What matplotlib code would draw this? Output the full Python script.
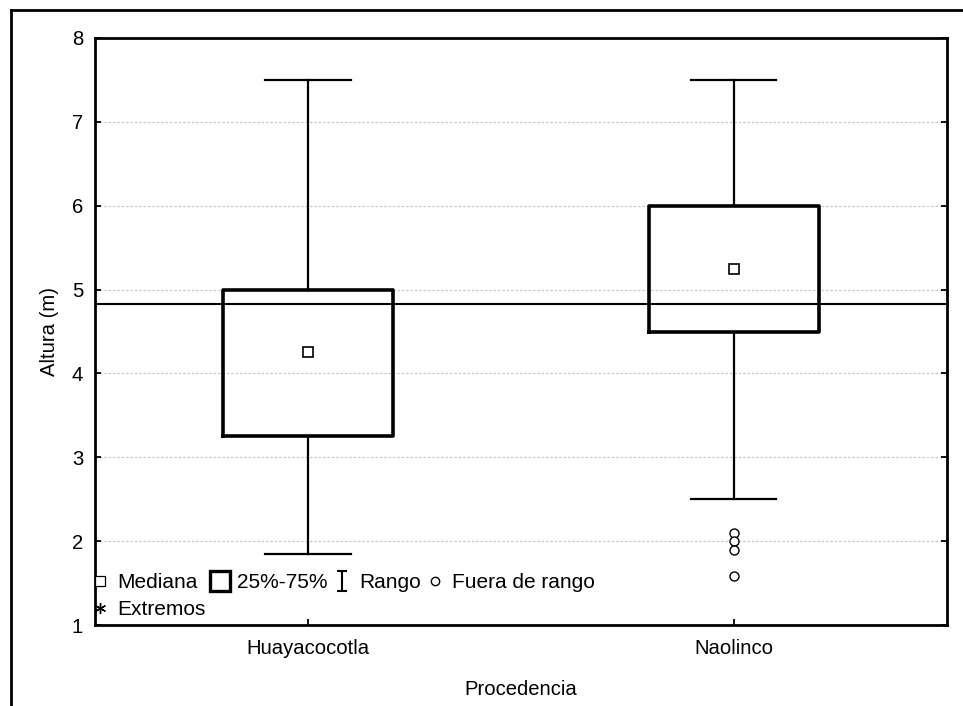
import matplotlib
matplotlib.use("Agg")
import matplotlib.pyplot as plt
from matplotlib.lines import Line2D
from matplotlib.path import Path

plt.rcParams['font.family'] = ['Liberation Sans', 'DejaVu Sans']

# box plot summary per origin
groups = ["Huayacocotla", "Naolinco"]
medians = [4.25, 5.25]
q1 = [3.25, 4.5]
q3 = [5.0, 6.0]
whis_low = [1.85, 2.5]
whis_high = [7.5, 7.5]
outliers = [[], [2.1, 2.0, 1.9, 1.58]]
grand_mean = 4.83

fig = plt.figure(figsize=(9.63, 7.06), dpi=100)
ax = fig.add_axes([0.0987, 0.1147, 0.8843, 0.8315])

stats = []
for i, name in enumerate(groups):
    stats.append({
        "label": name,
        "med": medians[i],
        "q1": q1[i],
        "q3": q3[i],
        "whislo": whis_low[i],
        "whishi": whis_high[i],
        "fliers": outliers[i],
    })

positions = [1, 2]
ax.bxp(stats, positions=positions, widths=0.4, capwidths=0.2,
       boxprops=dict(color="black", linewidth=2.6),
       whiskerprops=dict(color="black", linewidth=1.6),
       capprops=dict(color="black", linewidth=1.6),
       medianprops=dict(linestyle="none"),
       flierprops=dict(marker="o", markerfacecolor="white",
                       markeredgecolor="black", markersize=6.5,
                       markeredgewidth=1.0),
       zorder=3)

# median shown as a small square
ax.plot(positions, medians, linestyle="none", marker="s", markersize=7,
        markerfacecolor="white", markeredgecolor="black",
        markeredgewidth=1.2, zorder=4)

# overall mean line
ax.axhline(grand_mean, color="black", linewidth=1.5, zorder=2)

fs = 14.6
ax.set_xlim(0.5, 2.5)
ax.set_ylim(1, 8)
ax.set_xticks(positions)
ax.set_xticklabels(groups)
ax.set_yticks(range(1, 9))
ax.yaxis.grid(True, linestyle=(0, (2, 1.5)), color="#c8c8c8", linewidth=0.9)
ax.set_axisbelow(True)
ax.tick_params(axis="both", direction="in", labelsize=fs, width=1.3,
               length=4, pad=8.5, right=True)
ax.tick_params(axis="x", pad=10)
for sp in ax.spines.values():
    sp.set_linewidth(2)
ax.set_xlabel("Procedencia", fontsize=fs, labelpad=16)
ax.set_ylabel("Altura (m)", fontsize=fs, labelpad=9)

# legend handles
ibeam = Path([(-0.5, 1), (0.5, 1), (0, 1), (0, -1), (-0.5, -1), (0.5, -1)],
             [Path.MOVETO, Path.LINETO, Path.MOVETO, Path.LINETO,
              Path.MOVETO, Path.LINETO])
h_med = Line2D([], [], linestyle="none", marker="s", markersize=6.5,
               markerfacecolor="white", markeredgecolor="black",
               markeredgewidth=0.9)
h_ext = Line2D([], [], linestyle="none", marker=(6, 2, 0), markersize=8,
               color="black", markeredgewidth=1.0)
h_box = Line2D([], [], linestyle="none", marker="s", markersize=14,
               markerfacecolor="white", markeredgecolor="black",
               markeredgewidth=2.4)
h_rng = Line2D([], [], linestyle="none", marker=ibeam, markersize=14,
               color="black", markeredgewidth=1.5)
h_out = Line2D([], [], linestyle="none", marker="o", markersize=6,
               markerfacecolor="white", markeredgecolor="black",
               markeredgewidth=1.0)
ax.legend([h_med, h_ext, h_box, h_rng, h_out],
          ["Mediana", "Extremos", "25%-75%", "Rango", "Fuera de rango"],
          ncol=4, loc="lower left", bbox_to_anchor=(-0.019, -0.011),
          frameon=False, fontsize=15, handlelength=0.8,
          handletextpad=0.42, columnspacing=0.3, labelspacing=0.37,
          borderaxespad=0.2)

# outer frame (left and top edges)
fig.add_artist(Line2D([0.0114, 0.0114], [0, 0.986], color="black",
                      linewidth=2, transform=fig.transFigure))
fig.add_artist(Line2D([0.0114, 1.0], [0.986, 0.986], color="black",
                      linewidth=2, transform=fig.transFigure))

fig.savefig("out.png", dpi=100)
